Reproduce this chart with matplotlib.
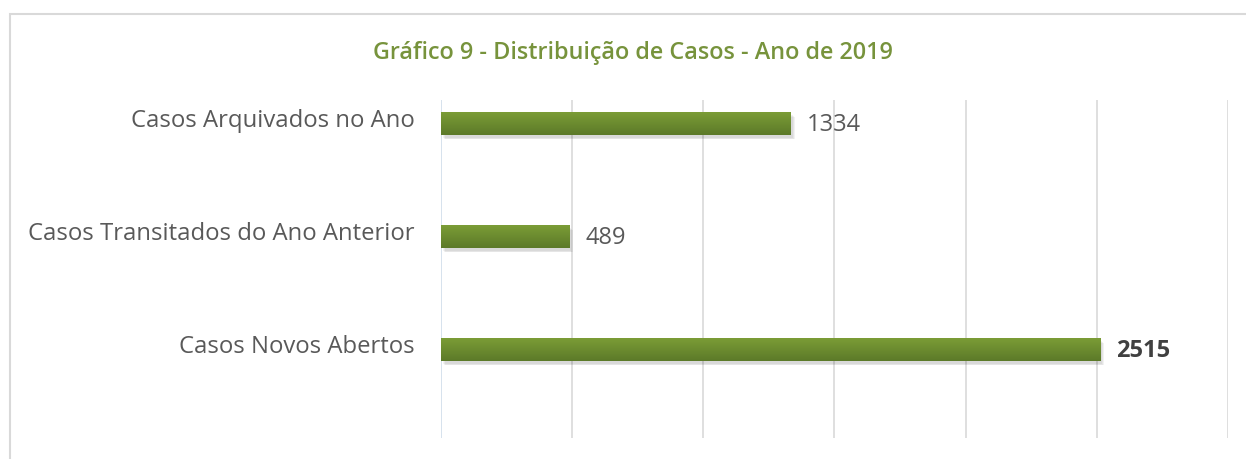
import matplotlib
matplotlib.use("Agg")
import matplotlib.pyplot as plt
import numpy as np
from matplotlib.patches import Rectangle
from matplotlib.colors import LinearSegmentedColormap
import matplotlib.transforms as mtransforms

categories = ["Casos Novos Abertos", "Casos Transitados do Ano Anterior", "Casos Arquivados no Ano"]
values = [2515, 489, 1334]
bold_flags = [True, False, False]
title = "Gráfico 9 - Distribuição de Casos - Ano de 2019"

plt.rcParams['font.family'] = ['Open Sans', 'DejaVu Sans']

W, H = 1246, 459
fig = plt.figure(figsize=(W/100, H/100), dpi=100)

# outer border
fig.patches.append(Rectangle((10/W, -0.1), 1.5, 1 - 14.5/H + 0.1, transform=fig.transFigure,
                             fill=False, edgecolor='#d9d9d9', linewidth=1.5))

ax = fig.add_axes([441/W, 1 - 438/H, (1228-441)/W, (438-100)/H])
ax.set_xticks(np.arange(0, 3001, 500))
ax.xaxis.grid(True, color='#d9d9d9', linewidth=1.2)
ax.set_axisbelow(True)
for s in ax.spines.values():
    s.set_visible(False)
ax.tick_params(axis='x', length=0, labelbottom=False)
ax.tick_params(axis='y', length=0, pad=19)
ax.axvline(0, color='#d6e3f0', linewidth=1.2, zorder=1)

y = np.arange(len(categories))
bh = 0.2
# shadow (soft)
for k, a in enumerate([0.05, 0.05, 0.05]):
    ax.barh(y - 0.03 - 0.008*k, values, height=bh, left=6 + 4*k, color='#000000', alpha=a, zorder=2)
bars = ax.barh(y - 0.005, values, height=bh, color='#6f8f31', zorder=3)
grad = np.linspace(0, 1, 64).reshape(-1, 1)
cmap = LinearSegmentedColormap.from_list('g', ['#5c7a29', '#7b9c36'])
for b in bars:
    x0, y0, w, h = b.get_x(), b.get_y(), b.get_width(), b.get_height()
    ax.imshow(grad, extent=[x0, x0 + w, y0, y0 + h], origin='lower', cmap=cmap,
              aspect='auto', zorder=4)
ax.set_xlim(0, 3000)
ax.set_ylim(-0.788, 2.2035)

ax.set_yticks(y)
ax.set_yticklabels(categories, fontsize=17.2, color='#595959')
offset = mtransforms.ScaledTranslation(0, 5/100, fig.dpi_scale_trans)
for lbl in ax.get_yticklabels():
    lbl.set_transform(lbl.get_transform() + offset)

for yi, v, bf in zip(y, values, bold_flags):
    ax.text(v + 60, yi - 0.02, str(v), va='center', ha='left', fontsize=17,
            color='#404040' if bf else '#595959', fontweight='bold' if bf else 'normal', zorder=5)

fig.text(633/W, 1 - 53/H, title, ha='center', va='center', fontsize=16.8,
         color='#77933c', fontweight='semibold')

fig.savefig("out.png", dpi=100)
